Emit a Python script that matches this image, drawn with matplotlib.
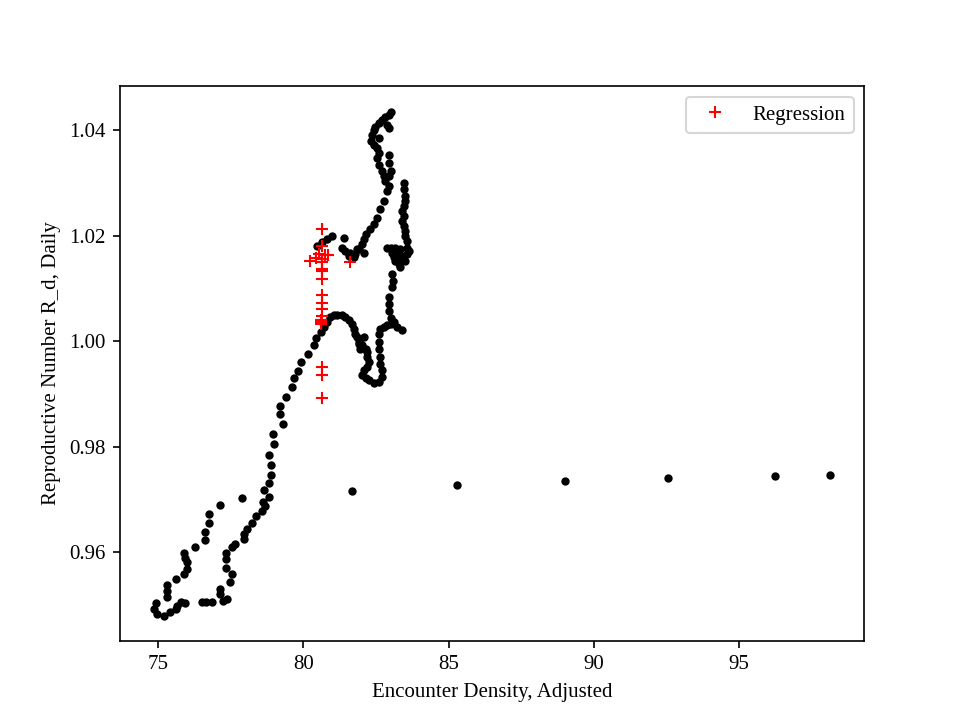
import matplotlib
matplotlib.use("Agg")
import matplotlib.pyplot as plt

plt.rcParams['font.family'] = ['Liberation Serif', 'DejaVu Serif']

# Observed daily points (black dots)
obs_x = [
    79.61, 79.41, 79.21, 79.21, 79.29, 78.94, 79.00, 78.81, 78.87, 78.87,
    78.81, 78.66, 78.81, 78.61, 78.69, 78.58, 78.38, 78.24, 78.06, 77.95,
    77.95, 77.66, 77.55, 77.35, 77.35, 77.35, 77.55, 77.46, 77.14, 77.14,
    77.38, 77.24, 76.86, 76.63, 76.51, 75.94, 75.77, 75.60, 75.42, 75.19,
    74.97, 74.85, 74.91, 75.31, 75.31, 75.31, 75.60, 75.88, 76.00, 76.00,
    75.94, 75.88, 76.28, 76.60, 76.60, 76.74, 76.74, 77.14, 77.89, 75.65,
    80.45, 80.38, 80.15, 79.93, 79.81, 79.67,
    80.59, 80.70, 80.82, 80.93, 81.04, 81.16, 81.33, 81.45, 81.56, 81.68,
    81.73, 81.79, 81.85, 81.91, 82.02, 82.14, 82.19, 82.19, 82.25, 82.19,
    82.08, 82.02, 82.14, 82.25, 81.91, 81.96,
    82.42, 82.59, 82.71, 82.71, 82.65, 82.65, 82.59, 82.59, 82.59, 82.65,
    82.77, 82.88, 83.00, 83.11, 83.23, 83.40, 83.00, 82.94, 82.94, 82.94,
    83.06, 83.09, 83.06, 82.08,
    83.00, 83.17, 83.34, 83.06, 83.23, 83.40, 83.11, 83.28, 83.17, 83.34,
    83.28, 83.57, 83.57, 83.51, 83.62, 82.88,
    83.45, 83.45, 83.49, 83.49, 83.45, 83.40, 83.45, 83.40, 83.45, 83.51,
    83.51, 83.57,
    83.00, 82.94, 82.82, 82.71, 82.59, 82.48, 82.42, 82.37, 82.34, 82.42,
    82.59, 82.54, 82.59, 82.54, 82.59, 82.71, 82.77, 82.82, 82.94, 82.88,
    82.77, 82.65, 82.54, 82.42, 82.31, 82.14, 82.08, 82.02, 81.91, 81.79,
    82.94, 82.94, 83.00, 82.94, 82.94, 82.88,
    81.39, 81.33, 81.45, 81.56, 81.73, 81.62, 81.85, 82.08,
    80.47, 80.65, 80.82, 80.97,
    81.69, 85.30, 89.02, 92.57, 96.25, 98.14,
]
obs_y = [
    0.99126, 0.98949, 0.98779, 0.98617, 0.98428, 0.98240, 0.98051, 0.97843, 0.97660, 0.97472,
    0.97315, 0.97189, 0.97051, 0.96962, 0.96874, 0.96779, 0.96685, 0.96560, 0.96447, 0.96340,
    0.96245, 0.96164, 0.96100, 0.95994, 0.95868, 0.95692, 0.95585, 0.95428, 0.95302, 0.95208,
    0.95113, 0.95081, 0.95051, 0.95051, 0.95051, 0.95038, 0.95051, 0.94925, 0.94862, 0.94798,
    0.94830, 0.94925, 0.95038, 0.95145, 0.95270, 0.95377, 0.95491, 0.95585, 0.95679, 0.95806,
    0.95900, 0.95994, 0.96108, 0.96232, 0.96383, 0.96560, 0.96717, 0.96887, 0.97032, 0.94975,
    1.00070, 0.99925, 0.99768, 0.99609, 0.99440, 0.99296,
    1.00175, 1.00270, 1.00364, 1.00458, 1.00491, 1.00504, 1.00491, 1.00458, 1.00396, 1.00334,
    1.00240, 1.00145, 1.00081, 0.99987, 0.99925, 0.99862, 0.99798, 0.99704, 0.99609, 0.99515,
    0.99453, 0.99358, 0.99296, 0.99264, 0.99957, 0.99862,
    0.99213, 0.99232, 0.99326, 0.99453, 0.99579, 0.99704, 0.99862, 0.99987, 1.00145, 1.00240,
    1.00270, 1.00302, 1.00334, 1.00364, 1.00270, 1.00208, 1.00447, 1.00585, 1.00711, 1.00836,
    1.01025, 1.01151, 1.01277, 1.00081,
    1.01779, 1.01779, 1.01749, 1.01685, 1.01655, 1.01623, 1.01591, 1.01560, 1.01528, 1.01402,
    1.01466, 1.01779, 1.01655, 1.01528, 1.01717, 1.01779,
    1.03006, 1.02881, 1.02755, 1.02660, 1.02566, 1.02472, 1.02377, 1.02283, 1.02189, 1.02094,
    1.02000, 1.01906,
    1.04358, 1.04296, 1.04264, 1.04202, 1.04138, 1.04075, 1.04013, 1.03919, 1.03792, 1.03730,
    1.03855, 1.03666, 1.03572, 1.03477, 1.03353, 1.03226, 1.03132, 1.03038, 1.02943, 1.02849,
    1.02660, 1.02504, 1.02345, 1.02221, 1.02126, 1.02032, 1.01938, 1.01843, 1.01749, 1.01655,
    1.03542, 1.03383, 1.03226, 1.03132, 1.04043, 1.04108,
    1.01968, 1.01779, 1.01717, 1.01623, 1.01591, 1.01685, 1.01749, 1.01685,
    1.01811, 1.01887, 1.01943, 1.01991,
    0.97170, 0.97283, 0.97358, 0.97415, 0.97453, 0.97472,
]

# Regression points (red plus markers)
reg_x = [80.65, 80.65, 80.24, 80.45, 80.55, 80.75, 80.86, 80.65, 80.65, 80.65,
         80.65, 80.65, 81.62, 80.65, 80.65, 80.65, 80.65, 80.60, 80.60, 80.62,
         80.65, 80.65, 80.65]
reg_y = [1.0213, 1.0181, 1.0153, 1.0159, 1.0166, 1.0163, 1.0164, 1.0156, 1.0150, 1.0137,
         1.0134, 1.0118, 1.0150, 1.0087, 1.0073, 1.0062, 1.0049, 1.0036, 1.0032, 1.0040,
         0.9952, 0.9936, 0.9892]

fig, ax = plt.subplots(figsize=(6.4, 4.8), dpi=150)
ax.plot(obs_x, obs_y, 'k.', linestyle='none')
ax.plot(reg_x, reg_y, 'r+', linestyle='none', label='Regression')
ax.set_xlabel('Encounter Density, Adjusted')
ax.set_ylabel('Reproductive Number R_d, Daily')
ax.legend(loc='upper right')
fig.savefig('out.png', dpi=150)
